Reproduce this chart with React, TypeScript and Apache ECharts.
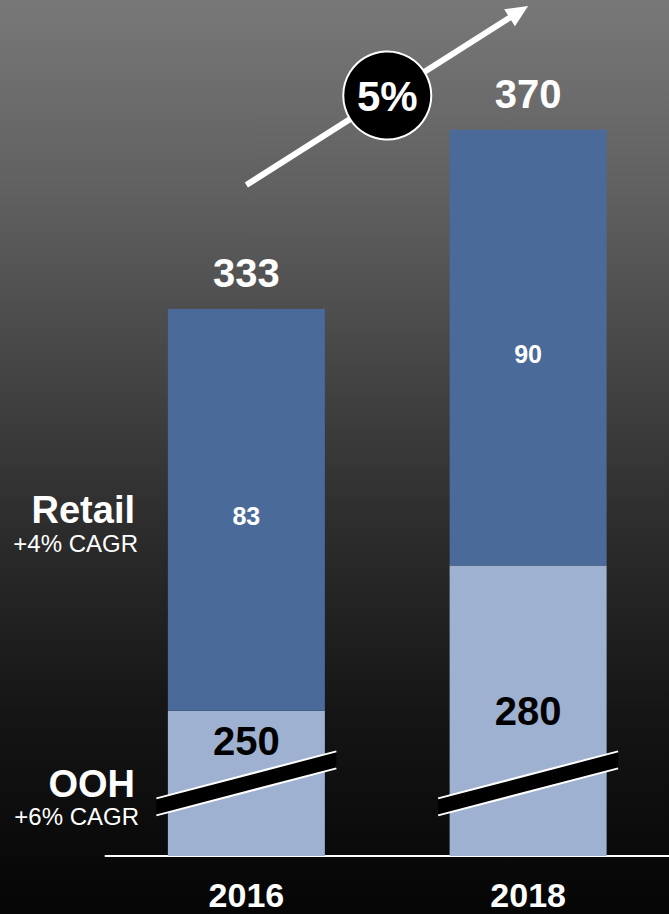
import React, { useEffect, useRef } from "react";
import * as echarts from "echarts";

const years = ["2016", "2018"];
const oohValues = [250, 280];
const retailValues = [83, 90];
const totals = years.map((_, i) => oohValues[i] + retailValues[i]);
const cagrLabel = "5%";
const retailName = "Retail";
const retailCagr = "+4% CAGR";
const oohName = "OOH";
const oohCagr = "+6% CAGR";
const axisMin = 220;
const axisMax = 390;
const breakValue = 235;

const FONT = "'Liberation Sans', Arial, sans-serif";

export default function App() {
  const ref = useRef<HTMLDivElement>(null);
  useEffect(() => {
    const chart = echarts.init(ref.current!, null, { renderer: "svg" });
    const option: any = {
      animation: false,
      backgroundColor: "transparent",
      grid: { left: 105.5, right: 0, top: 33, bottom: 58 },
      xAxis: {
        type: "category",
        data: years,
        axisLine: { show: true, lineStyle: { color: "#ffffff", width: 2 } },
        axisTick: { show: false },
        axisLabel: {
          color: "#ffffff",
          fontFamily: FONT,
          fontWeight: "bold",
          fontSize: 34,
          margin: 22,
        },
      },
      yAxis: {
        type: "value",
        min: axisMin,
        max: axisMax,
        show: false,
        splitLine: { show: false },
      },
      series: [
        {
          name: "Total",
          type: "bar",
          data: totals,
          barWidth: 157,
          barGap: "-100%",
          clip: true,
          itemStyle: { color: "rgba(0,0,0,0)" },
          label: {
            show: true,
            position: "top",
            distance: 16,
            color: "#ffffff",
            fontFamily: FONT,
            fontWeight: "bold",
            fontSize: 40,
          },
          z: 1,
        },
        {
          name: "OOH",
          type: "bar",
          stack: "s",
          data: oohValues.map((v, i) => ({
            value: v,
            label:
              i === 0
                ? { position: "insideTop", distance: 10 }
                : { position: "inside" },
          })),
          barWidth: 157,
          clip: true,
          itemStyle: { color: "#9eb1d0" },
          label: {
            show: true,
            color: "#000000",
            fontFamily: FONT,
            fontWeight: "bold",
            fontSize: 40,
          },
          z: 2,
        },
        {
          name: "Retail",
          type: "bar",
          stack: "s",
          data: retailValues,
          barWidth: 157,
          clip: true,
          itemStyle: { color: "#4a6a9a" },
          label: {
            show: true,
            position: "inside",
            offset: [0, 6],
            color: "#ffffff",
            fontFamily: FONT,
            fontWeight: "bold",
            fontSize: 25,
          },
          z: 2,
        },
      ],
    };
    chart.setOption(option);

    const graphics: any[] = [];
    const centers = years.map((_, i) => chart.convertToPixel({ gridIndex: 0 }, [i, breakValue]) as number[]);

    // break marks
    const hdx = 90;
    const hdy = 23.5;
    const ht = 8.5;
    centers.forEach(([cx, cy]) => {
      const lx = cx - hdx;
      const rx = cx + hdx;
      const ly = cy + hdy;
      const ry = cy - hdy;
      graphics.push({
        type: "polygon",
        z: 100,
        shape: { points: [[lx, ly - ht], [rx, ry - ht], [rx, ry + ht], [lx, ly + ht]] },
        style: { fill: "#000000" },
      });
      graphics.push({
        type: "line",
        z: 101,
        shape: { x1: lx, y1: ly - ht, x2: rx, y2: ry - ht },
        style: { stroke: "#ffffff", lineWidth: 2 },
      });
      graphics.push({
        type: "line",
        z: 101,
        shape: { x1: lx, y1: ly + ht, x2: rx, y2: ry + ht },
        style: { stroke: "#ffffff", lineWidth: 2 },
      });
    });

    // growth arrow
    const sx = centers[0][0];
    const sy = 185;
    const ex = centers[1][0];
    const ey = 6;
    const dx = ex - sx;
    const dy = ey - sy;
    const len = Math.sqrt(dx * dx + dy * dy);
    const ux = dx / len;
    const uy = dy / len;
    const nx = -uy;
    const ny = ux;
    const headLen = 22;
    const headW = 10;
    const bx = ex - headLen * ux;
    const by = ey - headLen * uy;
    graphics.push({
      type: "line",
      z: 100,
      shape: { x1: sx, y1: sy, x2: bx + 4 * ux, y2: by + 4 * uy },
      style: { stroke: "#ffffff", lineWidth: 6 },
    });
    graphics.push({
      type: "polygon",
      z: 100,
      shape: { points: [[ex, ey], [bx + headW * nx, by + headW * ny], [bx - headW * nx, by - headW * ny]] },
      style: { fill: "#ffffff" },
    });
    const mx = (sx + ex) / 2;
    const my = (sy + ey) / 2;
    graphics.push({
      type: "circle",
      z: 102,
      shape: { cx: mx, cy: my, r: 44 },
      style: { fill: "#000000", stroke: "#ffffff", lineWidth: 2 },
    });
    graphics.push({
      type: "text",
      z: 103,
      x: mx,
      y: my + 1,
      style: {
        text: cagrLabel,
        fill: "#ffffff",
        font: `bold 42px ${FONT}`,
        align: "center",
        verticalAlign: "middle",
      },
    });

    // left segment labels
    const retailMid = chart.convertToPixel({ gridIndex: 0 }, [0, (oohValues[0] + totals[0]) / 2]) as number[];
    const labelX = 135;
    graphics.push({
      type: "text",
      z: 103,
      x: labelX,
      y: retailMid[1],
      style: { text: retailName, fill: "#ffffff", font: `bold 38px ${FONT}`, align: "right", verticalAlign: "middle" },
    });
    graphics.push({
      type: "text",
      z: 103,
      x: labelX + 3,
      y: retailMid[1] + 34,
      style: { text: retailCagr, fill: "#ffffff", font: `24px ${FONT}`, align: "right", verticalAlign: "middle" },
    });
    graphics.push({
      type: "text",
      z: 103,
      x: labelX,
      y: centers[0][1] + 1,
      style: { text: oohName, fill: "#ffffff", font: `bold 38px ${FONT}`, align: "right", verticalAlign: "middle" },
    });
    graphics.push({
      type: "text",
      z: 103,
      x: labelX + 4,
      y: centers[0][1] + 33,
      style: { text: oohCagr, fill: "#ffffff", font: `24px ${FONT}`, align: "right", verticalAlign: "middle" },
    });

    chart.setOption({ graphic: graphics });
    return () => chart.dispose();
  }, []);
  return (
    <div
      ref={ref}
      style={{
        position: "fixed",
        left: 0,
        top: 0,
        width: 669,
        height: 914,
        background:
          "linear-gradient(to bottom, #787878 0%, #5f5f5f 22%, #303030 55%, #151515 78%, #050505 100%)",
      }}
    />
  );
}
